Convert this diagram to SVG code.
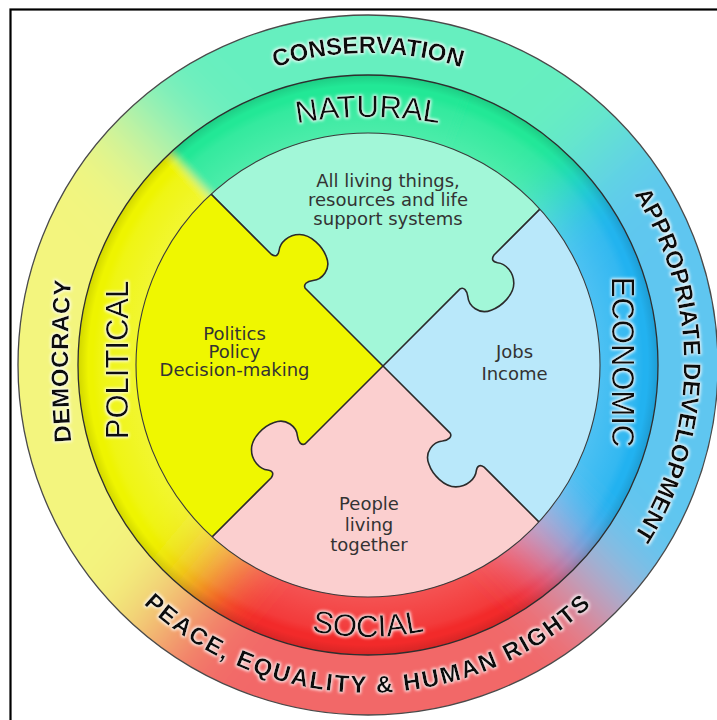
<svg xmlns="http://www.w3.org/2000/svg" width="717" height="720" viewBox="0 0 717 720">
<defs>
<style>
.lblB{font-family:"Liberation Sans",Arial,sans-serif;font-weight:bold;font-size:24px;fill:#111}
.lblR{font-family:"Liberation Sans",Arial,sans-serif;font-size:31px;fill:#111}
.body{font-family:"DejaVu Sans",sans-serif;font-size:18px;fill:#333;text-anchor:middle}
.seam{fill:none;stroke:#2b2b2b;stroke-width:1.6;stroke-linejoin:round}
.edge{fill:none}
</style>
<clipPath id="cOuter"><circle cx="368" cy="365" r="350"/></clipPath>
<clipPath id="cMid"><circle cx="368" cy="365" r="290"/></clipPath>
<clipPath id="cIn"><circle cx="368" cy="365" r="232"/></clipPath>
<filter id="bOuter" filterUnits="userSpaceOnUse" x="-400" y="-400" width="1600" height="1600"><feGaussianBlur stdDeviation="45"/></filter>
<filter id="bMid" filterUnits="userSpaceOnUse" x="-400" y="-400" width="1600" height="1600"><feGaussianBlur stdDeviation="32"/></filter>
<filter id="bSharp" filterUnits="userSpaceOnUse" x="-400" y="-400" width="1600" height="1600"><feGaussianBlur stdDeviation="4"/></filter>
<filter id="glow" x="-15%" y="-40%" width="130%" height="180%">
<feMorphology in="SourceAlpha" operator="dilate" radius="1.2" result="d"/>
<feGaussianBlur in="d" stdDeviation="1.8" result="b"/>
<feFlood flood-color="#ffffff" flood-opacity="0.9" result="w"/>
<feComposite in="w" in2="b" operator="in" result="g"/>
<feMerge><feMergeNode in="g"/><feMergeNode in="SourceGraphic"/></feMerge>
</filter>
<radialGradient id="mg" gradientUnits="userSpaceOnUse" cx="368" cy="365" r="290">
<stop offset="0" stop-color="#fff" stop-opacity="0"/>
<stop offset="0.79" stop-color="#fff" stop-opacity="0.2"/>
<stop offset="0.92" stop-color="#fff" stop-opacity="0.08"/>
<stop offset="0.95" stop-color="#fff" stop-opacity="0"/>
<stop offset="0.965" stop-color="#000" stop-opacity="0"/>
<stop offset="1" stop-color="#000" stop-opacity="0.12"/>
</radialGradient>
<path id="pCons" d="M56,365 A312,312 0 0 1 680,365"/>
<path id="pApp" d="M368,49 A316,316 0 0 1 368,681"/>
<path id="pPeace" d="M40,365 A328,328 0 0 0 696,365"/>
<path id="pDemo" d="M79.3,511 A1000,1000 0 0 1 79.3,211"/>
<path id="pNat" d="M68,252.4 A400,400 0 0 1 668,252.4"/>
<path id="pSoc" d="M96,365 A272,272 0 0 0 640,365"/>
</defs>

<rect x="0" y="0" width="717" height="720" fill="#fff"/>

<g id="ring-outer">
<g clip-path="url(#cOuter)">
<g filter="url(#bOuter)">
<path d="M368,365 L-127,-130 A700,700 0 0 1 888.2,-103.4 Z" fill="#66efbf"/>
<path d="M368,365 L888.2,-103.4 A700,700 0 0 1 863,860 Z" fill="#5ec6f0"/>
<path d="M368,365 L863,860 A700,700 0 0 1 -82,901.2 Z" fill="#f26868"/>
<path d="M368,365 L-82,901.2 A700,700 0 0 1 -127,-130 Z" fill="#f3f57e"/>
</g>
</g>
<circle cx="368" cy="365" r="350" fill="none" stroke="#4a4a4a" stroke-width="1.3"/>
</g>

<g id="ring-middle">
<g clip-path="url(#cMid)">
<g filter="url(#bMid)">
<path d="M368,365 L-109.4,-147 A700,700 0 0 1 904.2,-85 Z" fill="#22e896"/>
<path d="M368,365 L904.2,-85 A700,700 0 0 1 863,860 Z" fill="#22b2f0"/>
<path d="M368,365 L863,860 A700,700 0 0 1 -82,901.2 Z" fill="#f22a2a"/>
<path d="M368,365 L-82,901.2 A700,700 0 0 1 -109.4,-147 Z" fill="#eef400"/>
</g>
<g filter="url(#bSharp)">
<path d="M368,365 L-289.8,604.4 A700,700 0 0 1 -109.4,-147 Z" fill="#eef400"/>
<path d="M368,365 L-109.4,-147 A700,700 0 0 1 607.4,-292.8 Z" fill="#22e896"/>
</g>
<circle cx="368" cy="365" r="290" fill="url(#mg)"/>
</g>
<circle cx="368" cy="365" r="290" fill="none" stroke="#2e2e2e" stroke-width="1.3"/>
</g>

<g id="pieces" clip-path="url(#cIn)">
<g id="piece-natural"><path d="M383,366 L-17,-34 L783,-34 Z" fill="#a2f7d8"/></g>
<g id="piece-economic"><path d="M383,366 L783,-34 L783,766 Z" fill="#b9e8fa"/></g>
<g id="piece-social"><path d="M383,366 L783,766 L-17,766 Z" fill="#fbcfcf"/></g>
<g id="piece-political"><path d="M383,366 L-17,766 L-17,-34 Z" fill="#eff700"/></g>
</g>

<g id="tabs">
<path id="tab-political" transform="translate(383,366) rotate(-135)" fill="#eff700" d="M110,-2 L110,0 C114,1 114,6 110,11 C104,18 105,32 117,37 C127,42 144,42 152,34 C160,26 160,14 155,8 C152,4 153,1 158,0 L158,-2 Z"/>
<path id="tab-natural" transform="translate(383,366) rotate(-45)" fill="#a2f7d8" d="M109,-2 L109,0 C113,1 113,6 109,11 C103,18 104,32 116,37 C126,42 143,42 151,34 C159,26 159,14 154,8 C151,4 152,1 157,0 L157,-2 Z"/>
<path id="tab-economic" transform="translate(383,366) rotate(45)" fill="#b9e8fa" d="M95,-2 L95,0 C99,1 99,6 95,11 C89,18 90,32 102,37 C112,42 129,42 137,34 C145,26 145,14 140,8 C137,4 138,1 143,0 L143,-2 Z"/>
<path id="tab-social" transform="translate(383,366) rotate(135)" fill="#fbcfcf" d="M110,-2 L110,0 C114,1 114,6 110,11 C104,18 105,32 117,37 C127,42 144,42 152,34 C160,26 160,14 155,8 C152,4 153,1 158,0 L158,-2 Z"/>
</g>

<g id="connectors" clip-path="url(#cIn)">
<path class="seam" transform="translate(383,366) rotate(-135)" d="M0,0 L110,0 C114,1 114,6 110,11 C104,18 105,32 117,37 C127,42 144,42 152,34 C160,26 160,14 155,8 C152,4 153,1 158,0 L260,0"/>
<path class="seam" transform="translate(383,366) rotate(-45)" d="M0,0 L109,0 C113,1 113,6 109,11 C103,18 104,32 116,37 C126,42 143,42 151,34 C159,26 159,14 154,8 C151,4 152,1 157,0 L260,0"/>
<path class="seam" transform="translate(383,366) rotate(45)" d="M0,0 L95,0 C99,1 99,6 95,11 C89,18 90,32 102,37 C112,42 129,42 137,34 C145,26 145,14 140,8 C137,4 138,1 143,0 L260,0"/>
<path class="seam" transform="translate(383,366) rotate(135)" d="M0,0 L110,0 C114,1 114,6 110,11 C104,18 105,32 117,37 C127,42 144,42 152,34 C160,26 160,14 155,8 C152,4 153,1 158,0 L260,0"/>
</g>
<circle cx="368" cy="365" r="232" fill="none" stroke="#3a3a3a" stroke-width="1.1"/>

<g id="text-natural">
<text class="body" x="388" y="187">All living things,</text>
<text class="body" x="388" y="206">resources and life</text>
<text class="body" x="388" y="225">support systems</text>
</g>
<g id="text-political">
<text class="body" x="234.5" y="339.5">Politics</text>
<text class="body" x="234.5" y="357.5">Policy</text>
<text class="body" x="234.5" y="376">Decision-making</text>
</g>
<g id="text-economic">
<text class="body" x="514.5" y="358">Jobs</text>
<text class="body" x="514.5" y="380">Income</text>
</g>
<g id="text-social">
<text class="body" x="369" y="510">People</text>
<text class="body" x="369" y="531">living</text>
<text class="body" x="369" y="551">together</text>
</g>

<g id="ring-labels" filter="url(#glow)">
<text class="lblB"><textPath href="#pCons" startOffset="50%" text-anchor="middle">CONSERVATION</textPath></text>
<text class="lblB"><textPath href="#pApp" startOffset="50%" text-anchor="middle">APPROPRIATE DEVELOPMENT</textPath></text>
<text class="lblB" letter-spacing="2"><textPath href="#pPeace" startOffset="50%" text-anchor="middle">PEACE, EQUALITY &amp; HUMAN RIGHTS</textPath></text>
<text class="lblB" font-size="25" letter-spacing="0.5"><textPath href="#pDemo" startOffset="50%" text-anchor="middle">DEMOCRACY</textPath></text>
<text class="lblR"><textPath href="#pNat" startOffset="50%" text-anchor="middle">NATURAL</textPath></text>
<text class="lblR"><textPath href="#pSoc" startOffset="50%" text-anchor="middle">SOCIAL</textPath></text>
<text class="lblR" text-anchor="middle" transform="translate(128,360) rotate(-90)">POLITICAL</text>
<text class="lblR" text-anchor="middle" transform="translate(612,362) rotate(90)">ECONOMIC</text>
</g>

<rect x="10.5" y="9.5" width="720" height="720" fill="none" stroke="#000" stroke-width="2.2"/>
</svg>
